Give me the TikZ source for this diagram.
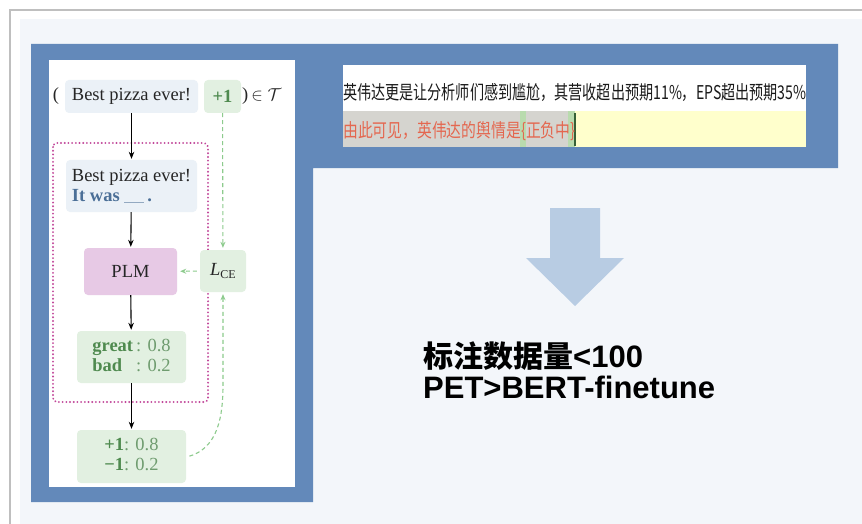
\documentclass[tikz,border=0pt]{standalone}
\usepackage{fontspec}
\setmainfont{Liberation Serif}
\newfontfamily\cjk{Noto Sans CJK SC}
\newfontfamily\latb{Liberation Sans}
\usetikzlibrary{arrows.meta}
\definecolor{bluebar}{HTML}{6389BA}
\definecolor{panelbg}{HTML}{F3F6FA}
\definecolor{framegrey}{HTML}{BFBFBF}
\definecolor{arrowfill}{HTML}{B8CCE3}
\definecolor{boxblue}{HTML}{EBF1F7}
\definecolor{boxgreen}{HTML}{E2F0E1}
\definecolor{boxpink}{HTML}{E7C9E5}
\definecolor{dotpink}{HTML}{C2479A}
\definecolor{greentext}{HTML}{4F8A4F}
\definecolor{greenlight}{HTML}{6F9C6F}
\definecolor{greenarrow}{HTML}{8DCB8D}
\definecolor{itwas}{HTML}{4B6F97}
\definecolor{redtext}{HTML}{E4674F}
\definecolor{hlgrey}{HTML}{D5D4CF}
\definecolor{hlgreen}{HTML}{B9DBAE}
\definecolor{softyellow}{HTML}{FFFFCC}
\definecolor{inktext}{HTML}{262626}
\tikzset{
  panelbox/.style={rounded corners=4pt, inner sep=0pt, align=center,
    font=\fontsize{18.5}{20}\selectfont, text=inktext},
  bluebox/.style={panelbox, fill=boxblue},
  greenbox/.style={panelbox, fill=boxgreen},
  pinkbox/.style={panelbox, fill=boxpink},
  blkarrow/.style={-{Stealth[length=7pt,width=5.5pt]}, line width=1.1pt, black, shorten >=1pt},
  gdash/.style={line width=1.1pt, greenarrow, dash pattern=on 4pt off 3pt},
  dotframe/.style={dotpink, line width=2pt, dash pattern=on 0.1pt off 3.6pt, line cap=round, rounded corners=4pt},
}
\begin{document}
\begin{tikzpicture}[x=1pt,y=-1pt]
\useasboundingbox (0,0) rectangle (862,524);
\fill[white] (0,0) rectangle (862,524);
\fill[panelbg] (20,19) rectangle (862,524);
\draw[framegrey, line width=2.5pt] (10,524) -- (10,10) -- (862,10);
\fill[bluebar] (31,44) -- (838,44) -- (838,168) -- (313,168) -- (313,502) -- (31,502) -- cycle;
\fill[white] (49,60) rectangle (295,487);
% top text box
\fill[white] (343,65) rectangle (806,147);
\fill[softyellow] (343,111) rectangle (806,147);
\fill[hlgrey] (343,111) rectangle (575,147);
\fill[hlgreen] (520,111) rectangle (526,147);
\fill[hlgreen] (568,111) rectangle (575,147);
\draw[greentext!70!black, line width=1.2pt] (575,113) -- (575,146);
\node[anchor=base west, inner sep=0pt] (t1) at (343,100)
  {\scalebox{0.742}[1]{\cjk\fontsize{19}{19}\selectfont\color{black!90}英伟达更是让分析师们感到尴尬，其营收超出预期11\%，EPS超出预期35\%}};
\node[anchor=base west, inner sep=0pt] (t2) at (343,138)
  {\scalebox{0.78}[1]{\cjk\fontsize{19}{19}\selectfont\color{redtext}由此可见，英伟达的舆情是\{正负中\}}};
% big arrow
\fill[arrowfill] (550,208) -- (600,208) -- (600,258) -- (624,258) -- (575,306) -- (526,258) -- (550,258) -- cycle;
\node[anchor=base west, inner sep=0pt] (s1) at (423,367)
  {{\cjk\bfseries\fontsize{30}{30}\selectfont 标注数据量}{\latb\bfseries\fontsize{31}{31}\selectfont <100}};
\node[anchor=base west, inner sep=0pt] (s2) at (423,398)
  {\latb\bfseries\fontsize{31}{31}\selectfont PET>BERT-finetune};
% left panel
\draw[dotframe] (53,143) rectangle (208,402);
\node[bluebox, minimum width=133pt, minimum height=33pt] (src) at (131.5,96.5) {Best pizza ever!};
\node[greenbox, minimum width=37pt, minimum height=33pt] (pl) at (222.5,96.5) {\bfseries\color{greentext}+1};
\node[panelbox, anchor=center] (lp) at (56,96.5) {(};
\node[panelbox, anchor=west] (rp) at (242,96.5) {)\,$\in\mathcal{T}$};
\node[bluebox, minimum width=131pt, minimum height=52pt, align=left] (pr) at (131.5,186)
  {Best pizza ever!\\{\bfseries\color{itwas}It was} {\color{itwas!60}\rule[-1pt]{20pt}{0.6pt}}\,{\bfseries\color{itwas}.}};
\node[pinkbox, minimum width=93pt, minimum height=47pt] (plm) at (130.5,271.5) {PLM};
\node[greenbox, minimum width=46pt, minimum height=42pt] (lce) at (223,271)
  {{\itshape L}\raisebox{-2pt}{\fontsize{12}{12}\selectfont CE}};
\node[greenbox, minimum width=109pt, minimum height=52pt] (gb) at (131.5,357)
  {\color{greenlight}\begin{tabular}{@{}l@{\,}l@{}}\textbf{\color{greentext}great} & : 0.8\\ \textbf{\color{greentext}bad} & : 0.2\end{tabular}};
\node[greenbox, minimum width=109pt, minimum height=53pt] (lab) at (131.5,456.5)
  {\color{greenlight}\begin{tabular}{@{}r@{}l@{}}\textbf{\color{greentext}+1} & : 0.8\\ \textbf{\color{greentext}−1} & : 0.2\end{tabular}};
\coordinate (bend) at (223,385);
\draw[blkarrow] (src) -- (pr);
\draw[blkarrow] (pr) -- (plm);
\draw[blkarrow] (plm) -- (gb);
\draw[blkarrow] (gb) -- (lab);
\draw[gdash, -{Stealth[length=6pt,width=5pt]}, shorten >=2pt] (pl) -- (lce);
\draw[gdash, -{Stealth[length=6pt,width=5pt]}, shorten >=3pt, shorten <=3pt] (lce) -- (plm);
\draw[gdash, {Stealth[length=6pt,width=5pt]}-, shorten <=2pt] (lce) -- (bend) to[out=-90,in=15] ([xshift=2pt]lab.east);
\end{tikzpicture}
\end{document}
